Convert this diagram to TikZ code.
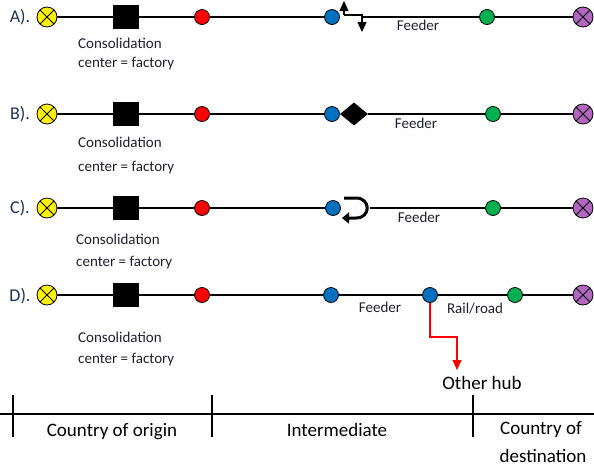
\documentclass[tikz,border=0pt]{standalone}
\usepackage{fontspec}
\setmainfont{Carlito}
\usetikzlibrary{arrows.meta,shapes.geometric}
\definecolor{navy}{HTML}{1F2F55}
\definecolor{txt}{HTML}{202030}
\definecolor{hubblue}{HTML}{0070C0}
\definecolor{hubgreen}{HTML}{00B050}
\definecolor{destpurple}{HTML}{B266C0}
\tikzset{
  dot/.style={circle, draw=black, line width=0.8pt, minimum size=15pt, inner sep=0pt},
  xdot/.style={dot, minimum size=20pt, path picture={\draw[line width=0.8pt]
     (path picture bounding box.north west)--(path picture bounding box.south east)
     (path picture bounding box.north east)--(path picture bounding box.south west);}},
  origin/.style={xdot, fill=yellow},
  dest/.style={xdot, fill=destpurple},
  red dot/.style={dot, fill=red},
  blue dot/.style={dot, fill=hubblue},
  green dot/.style={dot, fill=hubgreen},
  factory/.style={rectangle, fill=black, minimum width=26pt, minimum height=24pt, inner sep=0pt},
  link/.style={line width=1.3pt},
  rowlbl/.style={font=\fontsize{18}{21}\selectfont, text=navy, inner sep=0pt},
  small/.style={font=\fontsize{15}{18}\selectfont, text=txt, inner sep=0pt},
  big/.style={font=\fontsize{19}{22}\selectfont, text=black, inner sep=0pt},
  cons/.style={small, anchor=west},
  bigtip/.style={-{Triangle[width=9pt,length=10pt]}},
}
\begin{document}
\begin{tikzpicture}[x=1pt,y=-1pt]
\useasboundingbox (0,0) rectangle (594,467);

% ---------- Row A ----------
\node[rowlbl] (la) at (20,17) {A).};
\node[origin] (ya) at (47,17) {};
\node[factory] (fa) at (126,17) {};
\node[red dot] (ra) at (202,17) {};
\node[blue dot] (ba) at (332,17) {};
\node[green dot] (ga) at (487,17) {};
\node[dest] (pa) at (583,17) {};
\coordinate (upa) at (344,15);
\coordinate (dna) at (362,17);
\draw[link] (ya) -- (fa) -- (ra) -- (ba);
\draw[link,bigtip] (upa) -- (344,1);
\draw[link] (upa) -- (362,15) -- (dna);
\draw[link,bigtip] (dna) -- (362,32);
\draw[link] (dna) -- (ga) -- (pa);
\node[small] (fda) at (418,25) {Feeder};
\node[cons] (ca1) at (78,43) {Consolidation};
\node[cons] (ca2) at (78,64) {center = factory};

% ---------- Row B ----------
\node[rowlbl] (lb) at (20,114) {B).};
\node[origin] (yb) at (47,114) {};
\node[factory] (fb) at (126,114) {};
\node[red dot] (rb) at (202,114) {};
\node[blue dot] (bb) at (332,114) {};
\node[diamond, fill=black, inner sep=0pt, minimum width=28pt, minimum height=23pt] (db) at (354,114) {};
\node[green dot] (gb) at (493,114) {};
\node[dest] (pb) at (583,114) {};
\draw[link] (yb) -- (fb) -- (rb) -- (bb);
\draw[link] (db) -- (gb) -- (pb);
\node[small] (fdb) at (416,123) {Feeder};
\node[cons] (cb1) at (78,142) {Consolidation};
\node[cons] (cb2) at (78,168) {center = factory};

% ---------- Row C ----------
\node[rowlbl] (lc) at (20,208) {C).};
\node[origin] (yc) at (47,208) {};
\node[factory] (fc) at (126,208) {};
\node[red dot] (rc) at (202,208) {};
\node[blue dot] (bc) at (333,208) {};
\node[green dot] (gc) at (493,208) {};
\node[dest] (pc) at (583,208) {};
\coordinate (uc) at (370,208);
\draw[link] (yc) -- (fc) -- (rc) -- (bc);
\draw[line width=3pt,-{Triangle[width=11pt,length=7pt]}]
  (344,198) -- (356,198) .. controls (371,198) and (371,218) .. (356,218) -- (342,218);
\draw[link] (uc) -- (gc) -- (pc);
\node[small] (fdc) at (419,217) {Feeder};
\node[cons] (cc1) at (76,239) {Consolidation};
\node[cons] (cc2) at (76,263) {center = factory};

% ---------- Row D ----------
\node[rowlbl] (ld) at (20,296) {D).};
\node[origin] (yd) at (47,295) {};
\node[factory] (fd) at (126,295) {};
\node[red dot] (rd) at (202,295) {};
\node[blue dot] (bd1) at (331,295) {};
\node[blue dot] (bd2) at (430,295) {};
\node[green dot] (gd) at (515,295) {};
\node[dest] (pd) at (583,295) {};
\draw[link] (yd) -- (fd) -- (rd) -- (bd1) -- (bd2) -- (gd) -- (pd);
\node[small] (fdd) at (380,307) {Feeder};
\node[small] (rr) at (475,309) {Rail/road};
\node[cons] (cd1) at (78,337) {Consolidation};
\node[cons] (cd2) at (78,360) {center = factory};
\node[big] (oh) at (482,383) {Other hub};
\draw[red, line width=1.1pt, -{Triangle[width=9pt,length=10pt]}]
  (bd2.south) |- (457,337) -- (457,370);

% ---------- Bottom scale ----------
\coordinate (bl) at (0,414);
\coordinate (br) at (594,414);
\draw[line width=1.3pt] (bl) -- (br);
\foreach \x/\n in {13/t1,212/t2,473/t3}{
  \draw[line width=1.3pt] (\x,395) coordinate (\n a) -- (\x,437) coordinate (\n b);
}
\node[big] (co) at (112,432) {Country of origin};
\node[big] (im) at (337,430) {Intermediate};
\node[big] (cd) at (541,430) {Country of};
\node[big] (de) at (543,456) {destination};
\end{tikzpicture}
\end{document}
